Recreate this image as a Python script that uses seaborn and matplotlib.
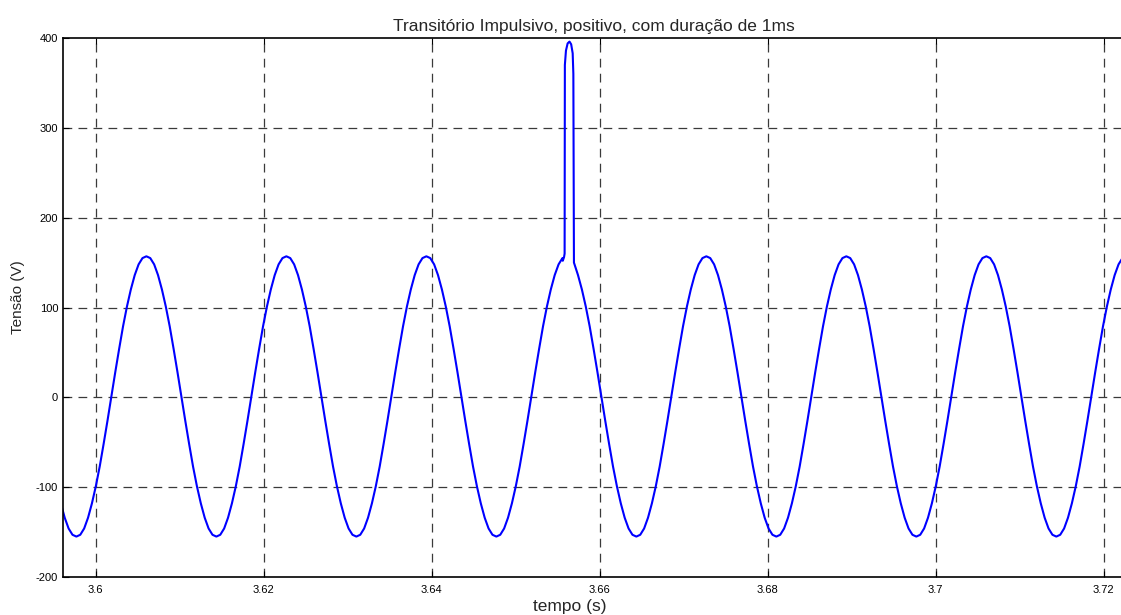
#!/usr/bin/env python
# -*- coding: utf-8 -*-
"""
Transitorio impulsivo sobre uma senoide de 60 Hz (valores lidos do grafico).
"""
import numpy as np
import pandas as pd
import matplotlib
matplotlib.use("Agg")
import matplotlib.pyplot as plt
import seaborn as sns

T_START = 3.595841
T_END = 3.722230
tensao = [
    -118, -134, -146, -153, -155, -153, -146, -134, -118, -99, -77, -52, -26,
    1, 28, 54, 79, 101, 120, 136, 148, 155, 157, 155, 148, 136, 120, 101, 79, 54, 28,
    1, -26, -52, -77, -99, -118, -134, -146, -153, -155, -153, -146, -134, -118, -99, -77, -52, -26,
    1, 28, 54, 79, 101, 120, 136, 148, 155, 157, 155, 148, 136, 120, 101, 79, 54, 28,
    1, -26, -52, -77, -99, -118, -134, -146, -153, -155, -153, -146, -134, -118, -99, -77, -52, -26,
    1, 28, 54, 79, 101, 120, 136, 148, 155, 157, 155, 148, 136, 120, 101, 79, 54, 28,
    1, -26, -52, -77, -99, -118, -134, -146, -153, -155, -153, -146, -134, -118, -99, -77, -52, -26,
    1, 28, 54, 79, 101, 120, 136, 148, 155, 157, 155, 148, 136, 120, 101, 79, 54, 28,
    1, -26, -52, -77, -99, -118, -134, -146, -153, -155, -153, -146, -134, -118, -99, -77, -52, -26,
    1, 28, 54, 79, 101, 120, 136, 148, 155, 157, 155, 148, 136, 120, 101, 79, 54, 28,
    1, -26, -52, -77, -99, -118, -134, -146, -153, -155, -153, -146, -134, -118, -99, -77, -52, -26,
    1, 28, 54, 79, 101, 120, 136, 148, 155, 157, 155, 148, 136, 120, 101, 79, 54, 28,
    1, -26, -52, -77, -99, -118, -134, -146, -153, -155, -153, -146, -134, -118, -99, -77, -52, -26,
    1, 28, 54, 79, 101, 120, 136, 148, 155, 157, 155, 148, 136, 120, 101, 79, 54, 28,
    1, -26, -52, -77, -99, -118, -134, -146, -153, -155, -153, -146, -134, -118, -99, -77, -52, -26,
    1, 28, 54, 79, 101, 120, 136, 148, 155,
]

# impulso (~1 ms) no pico do quarto ciclo
impulso_t = [3.65560, 3.65575, 3.65582, 3.65585, 3.65598, 3.65618, 3.65640,
             3.65660, 3.65678, 3.65686, 3.65693]
impulso_v = [152, 156, 160, 370, 386, 394, 396, 393, 383, 360, 150]

x_ticks = [3.6, 3.62, 3.64, 3.66, 3.68, 3.7, 3.72]
x_tick_labels = ["3.6", "3.62", "3.64", "3.66", "3.68", "3.7", "3.72"]
y_ticks = [-200, -100, 0, 100, 200, 300, 400]


def build_frame():
    tempo = np.linspace(T_START, T_END, len(tensao))
    base = pd.DataFrame({"tempo": tempo, "tensao": tensao})
    # remove as amostras da senoide que ficam dentro do impulso
    base = base[(base.tempo < impulso_t[0]) | (base.tempo > impulso_t[-1] + 0.00005)]
    spike = pd.DataFrame({"tempo": impulso_t, "tensao": impulso_v})
    return pd.concat([base, spike]).sort_values("tempo").reset_index(drop=True)


def main():
    data = build_frame()

    sns.set_style("white")
    plt.rcParams["font.family"] = ["Liberation Sans", "DejaVu Sans"]
    plt.rcParams["axes.unicode_minus"] = False

    fig = plt.figure(figsize=(11.21, 6.15), dpi=100)
    ax = fig.add_axes([63 / 1121, 38 / 615, 1 - 63 / 1121, 539 / 615])

    sns.lineplot(data=data, x="tempo", y="tensao", color="#0000ff",
                 linewidth=1.5, ax=ax, sort=False, estimator=None)

    ax.set_xlim(3.5961, 3.72206)
    ax.set_ylim(-200, 400)
    ax.set_xticks(x_ticks)
    ax.set_xticklabels(x_tick_labels)
    ax.set_yticks(y_ticks)

    for v in x_ticks:
        ax.axvline(v, color="#3a3a3a", linewidth=0.9, dashes=(7, 5), zorder=0)
    for v in y_ticks[1:-1]:
        ax.axhline(v, color="#3a3a3a", linewidth=0.9, dashes=(7, 5), zorder=0)

    ax.tick_params(direction="in", length=4, width=0.8, labelsize=8,
                   top=True, bottom=True, left=True, right=False, colors="black")
    ax.tick_params(axis="x", pad=6)
    for side in ["left", "bottom", "top"]:
        ax.spines[side].set_color("black")
        ax.spines[side].set_linewidth(1.2)
    ax.spines["right"].set_visible(False)

    ax.set_title("Transitório Impulsivo, positivo, com duração de 1ms",
                 fontsize=12.5, pad=5, x=0.502)
    ax.set_xlabel("tempo (s)", fontsize=12.5)
    ax.xaxis.set_label_coords(0.479, -0.040, transform=ax.transAxes)
    ax.xaxis.label.set_verticalalignment("top")
    ax.set_ylabel("Tensão (V)", fontsize=11)
    ax.yaxis.set_label_coords(-0.036, 0.52, transform=ax.transAxes)

    fig.savefig("out.png", dpi=100)
    print("Wrote file: out.png")


if __name__ == '__main__':
    main()
